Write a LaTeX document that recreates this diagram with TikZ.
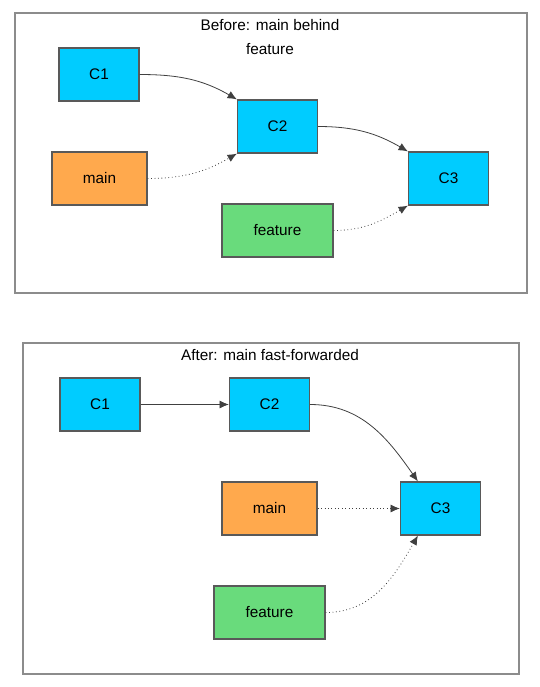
\documentclass[tikz,border=0pt]{standalone}
\usepackage{fontspec}
\setmainfont{Liberation Sans}
\usetikzlibrary{arrows.meta}

\definecolor{commitblue}{HTML}{00CCFF}
\definecolor{mainorange}{HTML}{FFA94D}
\definecolor{featgreen}{HTML}{69DB7C}

\tikzset{
  box/.style={draw=black!65, line width=0.9pt, minimum height=39.75pt, inner sep=0pt,
    font=\fontsize{11.5}{13}\selectfont},
  commit/.style={box, fill=commitblue, minimum width=60pt},
  mainref/.style={box, fill=mainorange, minimum width=71.25pt},
  featref/.style={box, fill=featgreen, minimum width=83.25pt},
  frame/.style={draw=black!45, line width=1.4pt},
  link/.style={draw=black!75, line width=0.6pt, -{Latex[length=7pt,width=6pt]}},
  ptr/.style={link, dotted}
}

\begin{document}
\begin{tikzpicture}[x=0.75pt, y=-0.75pt]
\useasboundingbox (0,0) rectangle (540,687);

% before
\draw[frame] (15,13) rectangle (527,293);
\node[align=center, font=\fontsize{11.5}{18}\selectfont] (before) at (270,37) {Before: main behind\\feature};
\node[commit] (a1) at (99,74.5) {C1};
\node[commit] (a2) at (277.5,126.5) {C2};
\node[commit] (a3) at (448.5,178.5) {C3};
\node[mainref] (amain) at (99.5,178.5) {main};
\node[featref] (afeat) at (277.5,230.5) {feature};
\draw[link] (a1.east) to[out=0, in=150] (a2.north west);
\draw[link] (a2.east) to[out=0, in=150] (a3.north west);
\draw[ptr] (amain.east) to[out=0, in=-150] (a2.south west);
\draw[ptr] (afeat.east) to[out=0, in=-150] (a3.south west);

% after
\draw[frame] (23,343) rectangle (519,674);
\node[font=\fontsize{11.5}{13}\selectfont] (after) at (270,355) {After: main fast-forwarded};
\node[commit] (b1) at (100,404.5) {C1};
\node[commit] (b2) at (269.5,404.5) {C2};
\node[commit] (b3) at (440.5,508.5) {C3};
\node[mainref] (bmain) at (269.5,508.5) {main};
\node[featref] (bfeat) at (269.5,612.5) {feature};
\draw[link] (b1) -- (b2);
\draw[link] (b2.east) to[out=0, in=125] ([xshift=13.5pt]b3.north west);
\draw[ptr] (bmain) -- (b3);
\draw[ptr] (bfeat.east) to[out=0, in=-120] ([xshift=13.5pt]b3.south west);
\end{tikzpicture}
\end{document}
